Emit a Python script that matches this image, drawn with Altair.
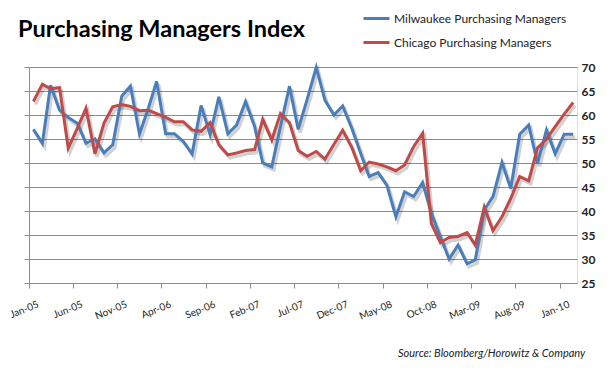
import altair as alt
import pandas as pd

# Monthly readings, Jan-2005 .. Feb-2010 (62 months)
start_year = 2005
milwaukee = [57.0, 54.1, 66.2, 61.0, 59.5, 58.3, 54.1, 55.0, 52.1, 53.8,
             63.9, 66.0, 56.0, 61.5, 67.0, 56.1, 56.1, 54.5, 51.9, 62.0,
             55.9, 63.8, 56.1, 57.9, 62.8, 57.6, 50.0, 49.2, 57.6, 66.0,
             57.0, 63.3, 69.9, 63.1, 60.0, 61.9, 57.3, 52.0, 47.2, 48.0,
             45.4, 38.8, 44.0, 43.0, 45.9, 39.5, 34.7, 30.0, 32.9, 29.0,
             29.8, 40.2, 43.0, 50.1, 44.7, 56.0, 57.9, 49.9, 56.9, 51.9,
             56.0, 56.0]
chicago = [62.8, 66.4, 65.5, 65.7, 53.1, 57.2, 61.4, 51.9, 58.3, 61.7,
           62.2, 61.8, 60.9, 61.0, 60.3, 59.5, 58.6, 58.6, 56.9, 56.6,
           58.4, 53.8, 51.7, 52.1, 52.6, 52.8, 59.1, 54.8, 60.3, 58.4,
           52.6, 51.4, 52.4, 50.8, 53.9, 56.8, 53.3, 48.4, 50.2, 49.8,
           49.2, 48.4, 49.6, 53.4, 56.2, 37.4, 33.4, 34.5, 34.7, 35.5,
           32.9, 40.8, 35.9, 38.8, 42.6, 47.2, 46.3, 53.1, 55.0, 57.6,
           60.2, 62.6]
series_names = ["Milwaukee Purchasing Managers", "Chicago Purchasing Managers"]
series_colors = ["#4A7EBB", "#BE4B48"]
tick_months = [(2005, 1), (2005, 6), (2005, 11), (2006, 4), (2006, 9),
               (2007, 2), (2007, 7), (2007, 12), (2008, 5), (2008, 10),
               (2009, 3), (2009, 8), (2010, 1)]
y_ticks = [25, 30, 35, 40, 45, 50, 55, 60, 65, 70]

rows = []
for name, vals in zip(series_names, [milwaukee, chicago]):
    for i, v in enumerate(vals):
        y = start_year + i // 12
        m = i % 12 + 1
        rows.append({"date": f"{y}-{m:02d}-16", "value": v, "series": name,
                     "order": series_names.index(name)})
df = pd.DataFrame(rows)

x_enc = alt.X("date:T",
              scale=alt.Scale(domain=[alt.DateTime(year=2005, month=1, date=1),
                                      alt.DateTime(year=2010, month=3, date=1)]),
              axis=alt.Axis(values=[alt.DateTime(year=y, month=m, date=1) for y, m in tick_months],
                            format="%b-%y", labelAngle=338, labelAlign="right",
                            labelBaseline="top", labelOffset=7, labelPadding=11,
                            title=None, domainColor="#8c8c8c", tickColor="#8c8c8c",
                            tickSize=5, labelFont="Lato", labelFontSize=10,
                            labelColor="#222222", grid=False, labelOverlap=False))
y_scale = alt.Scale(domain=[25, 70], nice=False, zero=False)

shadow = alt.Chart(df).mark_line(strokeWidth=3.5, color="#000000", opacity=0.18,
                                 xOffset=2, yOffset=3).encode(
    x=x_enc,
    y=alt.Y("value:Q", scale=y_scale,
            axis=alt.Axis(orient="left", labels=False, title=None, grid=False,
                          values=y_ticks, domainColor="#8c8c8c", tickColor="#8c8c8c",
                          tickSize=5)),
    detail="series:N",
)

lines = alt.Chart(df).mark_line(strokeWidth=3).encode(
    x=x_enc,
    y=alt.Y("value:Q", scale=y_scale,
            axis=alt.Axis(orient="right", title=None, values=y_ticks, grid=True,
                          gridColor="#8c8c8c", gridWidth=1, domain=False, ticks=False,
                          labelFont="Lato", labelFontSize=12, labelFontWeight="bold",
                          labelColor="#222222", labelPadding=4)),
    color=alt.Color("series:N",
                    scale=alt.Scale(domain=series_names, range=series_colors),
                    legend=alt.Legend(orient="none", legendX=333, legendY=-63, title=None,
                                      symbolType="stroke", symbolSize=676,
                                      symbolStrokeWidth=3, rowPadding=3,
                                      labelFont="Lato", labelFontSize=12, labelLimit=0,
                                      labelColor="#222222", labelOffset=3, padding=0)),
    order="order:Q",
)

title_df = pd.DataFrame({"t": ["Purchasing Managers Index"]})
title = alt.Chart(title_df).mark_text(align="left", baseline="middle", font="Lato",
                                      fontSize=23.5, fontWeight="bold", color="#000000").encode(
    text="t:N", x=alt.value(-11), y=alt.value(-37))

src_df = pd.DataFrame({"t": ["Source: Bloomberg/Horowitz & Company"]})
source = alt.Chart(src_df).mark_text(align="left", baseline="middle", font="Lato",
                                     fontSize=11, fontStyle="italic", color="#222222").encode(
    text="t:N", x=alt.value(369), y=alt.value(287))

chart = alt.layer(shadow, lines, title, source).resolve_axis(y="independent").properties(
    width=548, height=216,
    autosize=alt.AutoSizeParams(type="none"),
    padding={"left": 21, "top": 59, "right": 25, "bottom": 77},
).configure_view(stroke=None).configure(background="#ffffff")

chart.save("out.html", embed_options={"renderer": "svg", "actions": False})
